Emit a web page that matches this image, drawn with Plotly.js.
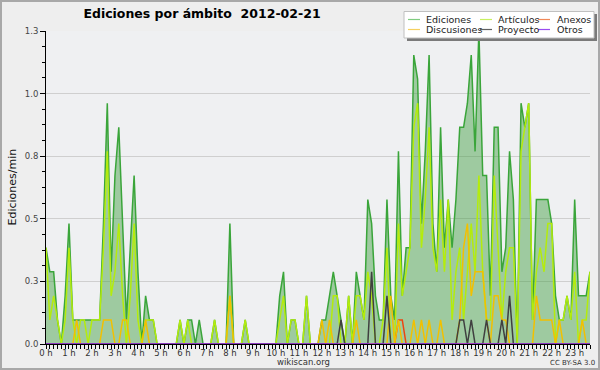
<!DOCTYPE html>
<html>
<head>
<meta charset="utf-8">
<script src="https://cdn.plot.ly/plotly-3.0.1.min.js"></script>
<style>html,body{margin:0;padding:0;background:#eeeeee;}#chart{width:600px;height:370px;}</style>
</head>
<body>
<div id="chart"></div>
<script>
// 10-minute slots, 00:00 .. 23:40 (hours)
const slotHours = Array.from({length: 143}, (_, i) => i / 6);

const hourTicks = [0,1,2,3,4,5,6,7,8,9,10,11,12,13,14,15,16,17,18,19,20,21,22,23];
const hourLabels = ["0 h","1 h","2 h","3 h","4 h","5 h","6 h","7 h","8 h","9 h","10 h","11 h","12 h","13 h","14 h","15 h","16 h","17 h","18 h","19 h","20 h","21 h","22 h","23 h"];
const yTickVals = [0, 0.26, 0.52, 0.78, 1.04, 1.3];
const yTickText = ["0.0","0.3","0.5","0.8","1.0","1.3"];

const ediciones = [
0.4,0.3,0.3,0.1,0,0.2,0.5,0.1,0.1,0.1,0.1,0.1,
0.1,0.1,0.1,0.5,1.0,0.3,0.7,0.9,0.5,0.1,0.4,0.7,
0.3,0,0.2,0.1,0.1,0,0,0,0,0,0,0.1,
0,0.1,0.1,0,0.1,0,0,0,0.1,0,0,0,
0.5,0,0,0,0.1,0,0,0,0,0,0,0,
0,0.2,0.3,0,0.1,0.1,0,0,0.2,0,0,0,
0.1,0.1,0.2,0.3,0.2,0.1,0,0.2,0,0.3,0.2,0.1,
0.6,0.5,0.2,0.1,0.1,0.6,0.2,0.1,0.8,0.2,0.4,0.4,
1.2,1.1,0.5,0.8,1.2,0.5,0.3,0.9,0.4,0.6,0.4,0.6,
0.9,0.9,1.0,1.2,0.8,1.3,0.7,0.7,0.2,0.9,0.9,0.3,
0.4,0.8,0.6,0,1.0,0.9,1.0,0.1,0.6,0.6,0.6,0.6,
0.5,0.2,0.1,0.1,0.2,0.1,0.6,0.2,0.2,0.2,0.3];

const articulos = [
0.4,0.1,0.2,0.1,0,0.1,0.4,0.1,0,0.1,0.1,0,
0.1,0.1,0.1,0.4,0.8,0.2,0.3,0.5,0.2,0,0.2,0.5,
0.1,0,0.1,0.1,0.1,0,0,0,0,0,0,0.1,
0,0.1,0,0,0,0,0,0,0.1,0,0,0,
0.2,0,0,0,0.1,0,0,0,0,0,0,0,
0,0.1,0.2,0,0.1,0.1,0,0,0.2,0,0,0,
0,0,0,0.2,0.2,0,0,0.2,0,0.2,0.2,0.1,
0.3,0.2,0,0,0.1,0.4,0,0,0.5,0.2,0.3,0.4,
0.9,1.0,0.4,0.6,0.9,0.4,0.3,0.6,0.3,0.6,0.1,0.3,
0.4,0.1,0.3,0.5,0.3,0.7,0.3,0.1,0.1,0.7,0.4,0.1,
0.3,0.4,0.4,0,0.8,0.9,1.0,0.1,0.3,0.4,0.3,0.5,
0.5,0,0.1,0.1,0.2,0.1,0.3,0,0.1,0.1,0.3];

const anexos = [
0,0,0,0,0,0,0,0,0,0,0,0,
0,0,0,0,0,0,0,0,0,0,0,0,
0,0,0,0,0,0,0,0,0,0,0,0,
0,0,0,0,0,0,0,0,0,0,0,0,
0,0,0,0,0,0,0,0,0,0,0,0,
0,0,0,0,0,0,0,0,0,0,0,0,
0,0,0,0,0,0,0,0,0,0,0,0,
0,0,0,0,0,0,0,0,0.1,0.1,0,0,
0,0,0,0,0,0,0,0,0,0,0,0,
0,0,0,0,0,0,0,0,0,0,0,0,
0,0,0,0,0,0,0,0,0,0,0,0,
0,0,0,0,0,0,0,0,0,0,0];

const discusiones = [
0,0,0,0,0,0,0,0,0.1,0,0,0,
0,0,0,0.1,0.1,0.1,0,0,0.1,0.1,0,0,
0,0,0.1,0,0,0,0,0,0,0,0,0,
0,0,0,0,0,0,0,0,0,0,0,0,
0.2,0,0,0,0,0,0,0,0,0,0,0,
0,0,0,0,0,0,0,0,0,0,0,0,
0.1,0,0.1,0,0,0,0,0,0,0.1,0,0,
0,0,0,0,0,0,0.2,0,0.1,0,0,0,
0.1,0,0.1,0,0.1,0,0,0.1,0,0,0,0,
0.1,0.4,0.5,0.2,0.3,0.3,0.3,0.1,0,0.2,0.2,0.1,
0.1,0,0,0,0,0,0,0,0.2,0.1,0.1,0.1,
0.1,0,0.1,0,0,0,0,0,0.1,0,0];

const proyecto = [
0,0,0,0,0,0,0,0,0,0,0,0,
0,0,0,0,0,0,0,0,0,0,0,0,
0,0,0,0,0,0,0,0,0,0,0,0,
0,0,0,0,0,0,0,0,0,0,0,0,
0,0,0,0,0,0,0,0,0,0,0,0,
0,0,0,0,0,0,0,0,0,0,0,0,
0,0,0,0,0,0.1,0,0,0,0,0,0,
0,0.3,0,0,0,0.2,0,0,0,0,0,0,
0,0,0,0,0,0,0,0,0,0,0,0,
0.1,0.1,0,0.1,0,0,0,0.1,0,0,0,0.1,
0,0.2,0,0,0,0,0,0,0,0,0,0,
0,0,0,0,0,0,0,0,0,0,0];

const otros = [
0,0,0,0,0,0,0,0,0,0,0,0,
0,0,0,0,0,0,0,0,0,0,0,0,
0,0,0,0,0,0,0,0,0,0,0,0,
0,0,0,0,0,0,0,0,0,0,0,0,
0,0,0,0,0,0,0,0,0,0,0,0,
0,0,0,0,0,0,0,0,0,0,0,0,
0,0,0,0,0,0,0,0,0,0,0,0,
0,0,0,0,0,0,0,0,0,0,0,0,
0,0,0,0,0,0,0,0,0,0,0,0,
0,0,0,0,0,0,0,0,0,0,0,0,
0,0,0,0,0,0,0,0,0,0,0,0,
0,0,0,0,0,0,0,0,0,0,0];

const seriesNames = ["Ediciones","Artículos","Anexos","Discusiones","Proyecto","Otros"];
const seriesColors = ["#3aa53a","#b4ec0c","#ee4411","#f2c000","#404040","#9933ee"];
const legendColors = ["#80cc80","#c8f060","#f08858","#f5d060","#606060","#9a4cf0"];
const seriesData = [ediciones, articulos, anexos, discusiones, proyecto, otros];

const traces = seriesData.map((d, k) => {
  const t = {x: slotHours, y: d, type: 'scatter', mode: 'lines', name: seriesNames[k],
    line: {color: seriesColors[k], width: 1.5}, showlegend: false, hoverinfo: 'skip'};
  if (k === 0) { t.fill = 'tozeroy'; t.fillcolor = 'rgba(60,155,60,0.45)'; }
  return t;
});

// pixel -> paper helpers (plot area: x 46..590, y 31..344)
const L = 46, W = 544, T = 31, H = 313;
const px = v => (v - L) / W;
const py = v => (T + H - v) / H;

const shapes = [];
const annotations = [];
// legend box
shapes.push({type:'rect', xref:'paper', yref:'paper', x0:px(407), x1:px(597), y0:py(41), y1:py(14), fillcolor:'#7a7a7a', line:{width:0}, layer:'above'});
shapes.push({type:'rect', xref:'paper', yref:'paper', x0:px(404), x1:px(594), y0:py(38), y1:py(11.5), fillcolor:'#ffffff', line:{width:1, color:'#c0c0c0'}, layer:'above'});
const legCols = [[408,424],[480,496],[538,555]];
const legRows = [19.5, 29.5];
const legOrder = [[0,1,2],[3,4,5]];
legOrder.forEach((row, r) => row.forEach((k, c) => {
  shapes.push({type:'line', xref:'paper', yref:'paper', x0:px(legCols[c][0]), x1:px(legCols[c][0]+12), y0:py(legRows[r]), y1:py(legRows[r]), line:{color:legendColors[k], width:1.2}, layer:'above'});
  annotations.push({xref:'paper', yref:'paper', x:px(legCols[c][1]), y:py(legRows[r]), xanchor:'left', yanchor:'middle', showarrow:false, text:seriesNames[k], font:{family:'DejaVu Sans', size:9.5, color:'#222'}});
}));
// outer frame
shapes.push({type:'rect', xref:'paper', yref:'paper', x0:px(1), x1:px(599), y0:py(369), y1:py(1), line:{width:2, color:'#a8a8a8'}, layer:'above'});

annotations.push({xref:'paper', yref:'paper', x:px(12), y:0.5, xanchor:'center', yanchor:'middle', textangle:-90, showarrow:false, text:'Ediciones/min', font:{family:'DejaVu Sans', size:11, color:'#111'}});
annotations.push({xref:'paper', yref:'paper', x:px(303), y:py(362), xanchor:'center', yanchor:'middle', showarrow:false, text:'wikiscan.org', font:{family:'DejaVu Sans', size:8.5, color:'#333'}});
annotations.push({xref:'paper', yref:'paper', x:px(572), y:py(362.5), xanchor:'center', yanchor:'middle', showarrow:false, text:'CC BY-SA 3.0', font:{family:'DejaVu Sans', size:7, color:'#333'}});

const yMinor = [];
for (let v = 0; v <= 1.3 + 1e-9; v += 0.065) yMinor.push(+v.toFixed(3));

const layout = {
  width: 600, height: 370,
  paper_bgcolor: '#eeeeee', plot_bgcolor: '#eff0f2',
  margin: {l: L, r: 600 - L - W, t: T, b: 370 - T - H, pad: 0},
  showlegend: false,
  title: {text: 'Ediciones por ámbito \u00a02012-02-21', x: 202/600, xref: 'container', xanchor: 'center', y: 1 - 14/370, yref: 'container', yanchor: 'middle',
    font: {family: 'DejaVu Sans', size: 12.5, color: '#000', weight: 'bold'}},
  xaxis: {range: [0, 142/6], tickmode: 'array', tickvals: hourTicks, ticktext: hourLabels,
    ticks: 'outside', ticklen: 4, tickwidth: 1, tickcolor: '#000', showline: true, linecolor: '#000', linewidth: 1,
    ticklabelstandoff: -3,
    showgrid: false, zeroline: false, tickfont: {family: 'DejaVu Sans', size: 8.5, color: '#333'},
    minor: {tickmode: 'array', tickvals: slotHours, ticks: 'outside', ticklen: 4, tickwidth: 1, tickcolor: '#000', showgrid: false}},
  yaxis: {range: [0, 1.3], tickmode: 'array', tickvals: yTickVals, ticktext: yTickText,
    ticks: 'outside', ticklen: 5, tickwidth: 1, tickcolor: '#000', showline: true, linecolor: '#000', linewidth: 1,
    showgrid: true, gridcolor: '#cfcfcf', gridwidth: 1, zeroline: false, tickfont: {family: 'DejaVu Sans', size: 8.5, color: '#444'},
    minor: {tickmode: 'array', tickvals: yMinor, ticks: 'outside', ticklen: 3, tickwidth: 1, tickcolor: '#000', showgrid: false}},
  shapes: shapes,
  annotations: annotations
};

Plotly.newPlot('chart', traces, layout, {staticPlot: true, displayModeBar: false});
</script>
</body>
</html>
